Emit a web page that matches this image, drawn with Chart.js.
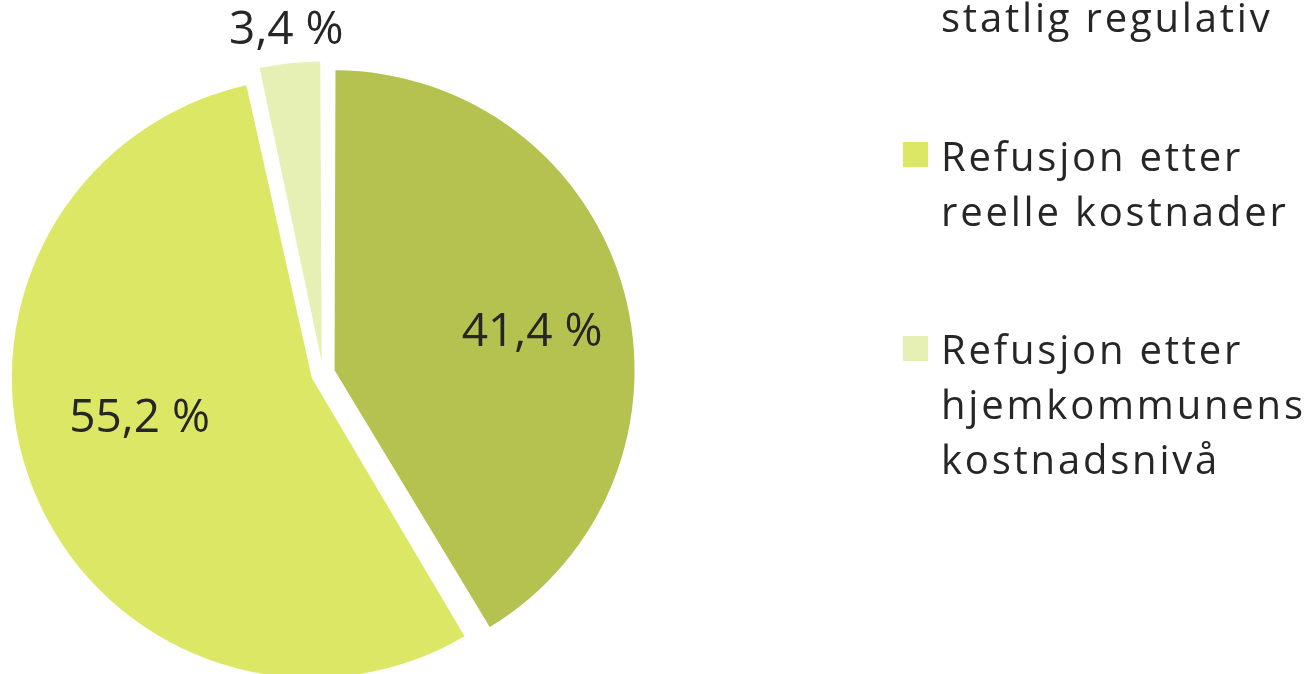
<!DOCTYPE html>
<html>
<head>
<meta charset="utf-8">
<script src="https://cdn.jsdelivr.net/npm/chart.js@4"></script>
<style>
  html, body { margin: 0; padding: 0; background: #ffffff; overflow: hidden; }
  #wrap { position: relative; width: 1310px; height: 674px; overflow: hidden; }
  #c { position: absolute; left: 0; top: 0; }
  #legend { position: absolute; left: 903px; top: -64.5px; font-family: "Open Sans", sans-serif;
            font-size: 40px; line-height: 54.7px; color: #262626; letter-spacing: 2.8px; }
  .item { position: relative; padding-left: 38px; margin-bottom: 84px; white-space: nowrap; }
  .sw { position: absolute; left: 0; top: 13.5px; width: 25px; height: 25px; }
</style>
</head>
<body>
<div id="wrap">
  <canvas id="c" width="1310" height="674"></canvas>
  <div id="legend"></div>
</div>
<script>
// ---- data ----
const categories = [
  ["Refusjon etter", "statlig regulativ"],
  ["Refusjon etter", "reelle kostnader"],
  ["Refusjon etter", "hjemkommunens", "kostnadsnivå"]
];
const shares = [41.4, 55.2, 3.4];
const sliceColors = ["#B6C250", "#DCE865", "#E6F0B4"];

// ---- legend (HTML) ----
const legendEl = document.getElementById('legend');
categories.forEach((lines, i) => {
  const item = document.createElement('div');
  item.className = 'item';
  const sw = document.createElement('span');
  sw.className = 'sw';
  sw.style.background = sliceColors[i];
  item.appendChild(sw);
  lines.forEach(ln => {
    const d = document.createElement('div');
    d.textContent = ln;
    item.appendChild(d);
  });
  legendEl.appendChild(item);
});

// ---- data label placement (style) ----
const labelPlace = [
  { frac: 0.71, shiftDeg: 4.5 },
  { frac: 0.63, shiftDeg: 7.6 },
  { frac: 1.147, shiftDeg: 0 }
];

const fmt = v => v.toFixed(1).replace('.', ',') + ' %';

// Keep exploded slices at the same radius (Chart.js enlarges offset arcs)
const explodeFix = {
  id: 'explodeFix',
  afterDatasetUpdate(chart, args) {
    const meta = chart.getDatasetMeta(args.index);
    const R = meta.controller.outerRadius;
    meta.data.forEach(arc => {
      const off = ((arc.options && arc.options.offset) || 0) / 4;
      const fix = 1 - Math.sin(Math.min(Math.PI, arc.circumference || 0));
      arc.outerRadius = R - off * fix;
    });
  }
};

const dataLabels = {
  id: 'dataLabels',
  afterDatasetsDraw(chart) {
    const ctx = chart.ctx;
    const meta = chart.getDatasetMeta(0);
    const R = meta.controller.outerRadius;
    ctx.save();
    ctx.font = '46px "Open Sans", sans-serif';
    ctx.fillStyle = '#262626';
    ctx.textAlign = 'center';
    ctx.textBaseline = 'middle';
    meta.data.forEach((arc, i) => {
      const p = arc.getProps(['x', 'y', 'startAngle', 'endAngle'], true);
      const mid = (p.startAngle + p.endAngle) / 2 + labelPlace[i].shiftDeg * Math.PI / 180;
      const d = R * labelPlace[i].frac;
      ctx.fillText(fmt(chart.data.datasets[0].data[i]), p.x + Math.cos(mid) * d, p.y + Math.sin(mid) * d);
    });
    ctx.restore();
  }
};

new Chart(document.getElementById('c'), {
  type: 'pie',
  data: {
    labels: categories,
    datasets: [{
      data: shares,
      backgroundColor: sliceColors,
      borderWidth: 0,
      offset: 48,
      clip: false
    }]
  },
  options: {
    responsive: false,
    devicePixelRatio: 1,
    animation: false,
    radius: 300,
    layout: { padding: { left: 0, right: 664, top: 73, bottom: 0 } },
    plugins: {
      legend: { display: false },
      tooltip: { enabled: false }
    }
  },
  plugins: [explodeFix, dataLabels]
});
</script>
</body>
</html>
